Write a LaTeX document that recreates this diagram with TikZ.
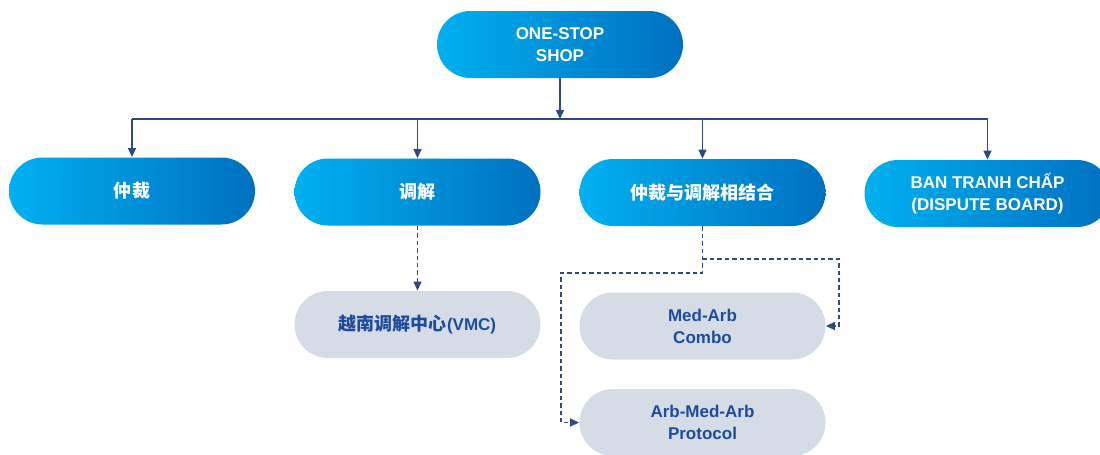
\documentclass[tikz,border=0pt]{standalone}
\usepackage{fontspec}
\setmainfont{Liberation Sans}
\newfontfamily\cjk{Noto Sans CJK SC}[Scale=1.06]
\usetikzlibrary{arrows.meta}

\definecolor{cyanL}{RGB}{0,176,240}
\definecolor{blueR}{RGB}{0,112,192}
\definecolor{grayF}{RGB}{214,220,229}
\definecolor{navyT}{RGB}{28,76,158}
\definecolor{navyL}{RGB}{47,72,135}

\tikzset{
  mainbox/.style={rounded corners=16.75pt, minimum width=123pt, minimum height=33.5pt,
    inner sep=0pt, left color=cyanL, right color=blueR, text=white, align=center,
    font=\bfseries\fontsize{8.5}{11}\selectfont},
  subbox/.style={rounded corners=16.75pt, minimum width=123pt, minimum height=33.5pt,
    inner sep=0pt, fill=grayF, text=navyT, align=center,
    font=\bfseries\fontsize{8.5}{11}\selectfont},
  link/.style={draw=navyL, line width=0.7pt, -{Triangle[length=4.5pt,width=4pt]}},
  dlink/.style={link, dash pattern=on 2.2pt off 1.5pt},
}

\begin{document}
\begin{tikzpicture}[x=0.5pt,y=0.5pt,yscale=-1,xscale=1]
\useasboundingbox (0,0) rectangle (1100,455);

%Shape: Rounded Rect (top)
\node[mainbox] (shop) at (560,44.5) {ONE-STOP\\SHOP};

%Shape: Rounded Rect (level 1)
\node[mainbox] (arb) at (132,191) {\cjk 仲裁};
\node[mainbox] (med) at (417.5,192) {\cjk 调解};
\node[mainbox] (combo) at (702.5,192.5) {\cjk 仲裁与调解相结合};
\node[mainbox] (board) at (987.5,193.5) {BAN TRANH CHẤP\\(DISPUTE BOARD)};

%Shape: Rounded Rect (level 2)
\node[subbox] (vmc) at (417.5,324.5) {{\cjk 越南调解中心}(VMC)};
\node[subbox] (medarb) at (702.5,326) {Med-Arb\\Combo};
\node[subbox] (amaprot) at (702.5,422.5) {Arb-Med-Arb\\Protocol};

%Straight Lines
\coordinate (bus) at (560,119);
\draw[link] (shop.south) -- (shop.south|-bus);
\draw[navyL, line width=0.7pt] (arb.north|-bus) -- (board.north|-bus);
\foreach \n in {arb,med,combo,board}
  \draw[link] (\n.north|-bus) -- (\n.north);

%Dashed Lines
\coordinate (splitR) at (839,259);
\coordinate (splitL) at (561,273);
\draw[dlink] (med.south) -- (vmc.north);
\draw[dlink] (combo.south) -- (combo.south|-splitL) -- (splitL) |- (amaprot.west);
\draw[dlink] (combo.south|-splitR) -- (splitR) |- (medarb.east);
\end{tikzpicture}
\end{document}
